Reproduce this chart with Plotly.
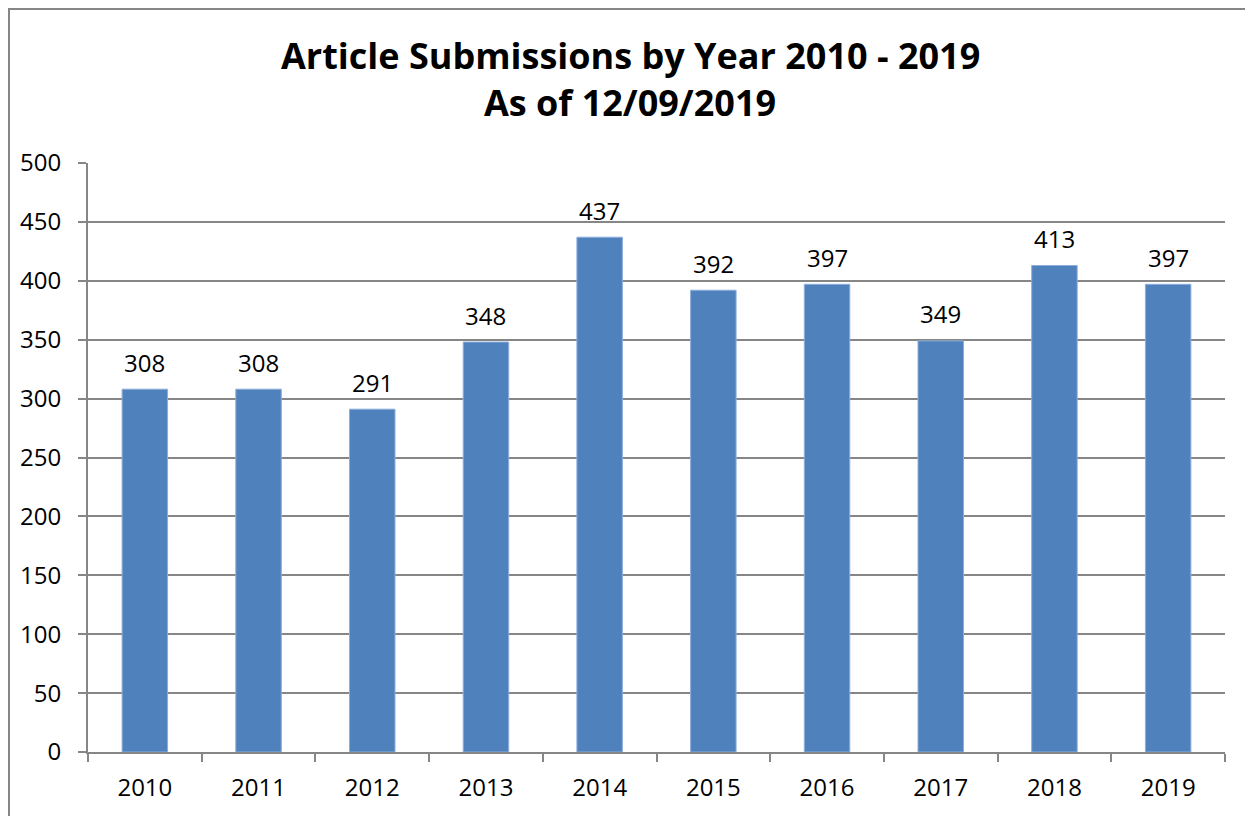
import plotly.graph_objects as go

years = ["2010", "2011", "2012", "2013", "2014", "2015", "2016", "2017", "2018", "2019"]
submissions = [308, 308, 291, 348, 437, 392, 397, 349, 413, 397]
y_ticks = [0, 50, 100, 150, 200, 250, 300, 350, 400, 450, 500]
title_lines = ["Article Submissions by Year 2010 - 2019", "As of 12/09/2019"]

# page body has an 8px margin, so the figure starts at (8, 8)
OFF = 8
W, H = 1253 - OFF, 816 - OFF
ml, mr, mt, mb = 88 - OFF, 28, 163 - OFF, 64
FONT = "Open Sans"
TICK = 24

ph = H - mt - mb
pw = W - ml - mr

fig = go.Figure()
fig.add_trace(go.Bar(
    x=years, y=submissions, width=0.4,
    marker=dict(color="#4F81BD", line=dict(color="#8CAEDB", width=1)),
    hoverinfo="x+y",
))
for i, yv in enumerate(submissions):
    fig.add_annotation(x=i, y=yv, text=str(yv), showarrow=False,
                       yanchor="middle", yshift=27,
                       font=dict(family=FONT, size=TICK, color="#000"))

for line, cy in zip(title_lines, [55, 103]):
    fig.add_annotation(xref="paper", yref="paper", x=(630 - 88) / pw,
                       y=1 + (163 - cy) / ph, xanchor="center", yanchor="middle",
                       text="<b>%s</b>" % line, showarrow=False,
                       font=dict(family=FONT, size=36, color="#000"))

fig.update_layout(
    width=W, height=H,
    margin=dict(l=ml, r=mr, t=mt, b=mb, autoexpand=False),
    paper_bgcolor="white", plot_bgcolor="white",
    showlegend=False,
    font=dict(family=FONT, size=TICK, color="#000"),
)
fig.update_xaxes(
    type="category", range=[-0.5, len(years) - 0.5],
    showline=True, linecolor="#868686", linewidth=2,
    ticks="outside", tickson="boundaries", ticklen=8, tickcolor="#868686", tickwidth=2,
    tickfont=dict(family=FONT, size=TICK), ticklabelstandoff=13, tickangle=0,
    showgrid=False, automargin=False,
)
fig.update_yaxes(
    range=[0, 500], tickvals=y_ticks, ticktext=[str(v) for v in y_ticks],
    showline=True, linecolor="#868686", linewidth=2,
    ticks="outside", ticklen=8, tickcolor="#868686", tickwidth=2,
    showgrid=True, gridcolor="#868686", gridwidth=2,
    tickfont=dict(family=FONT, size=TICK), ticklabelstandoff=12,
    zeroline=False, automargin=False,
)
# outer chart border (left and top visible; right/bottom cropped)
fig.add_shape(type="rect", xref="paper", yref="paper", layer="below",
              x0=(9 - 88) / pw, x1=(1253 + 20 - 88) / pw,
              y0=-(816 + 20 - 752) / ph, y1=1 + (163 - 9) / ph,
              line=dict(color="#868686", width=2), fillcolor="rgba(0,0,0,0)")

fig.write_html("out.html")
